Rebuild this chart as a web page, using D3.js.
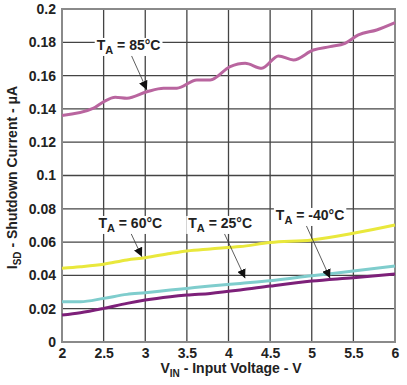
<!DOCTYPE html>
<html>
<head>
<meta charset="utf-8">
<script src="https://cdn.jsdelivr.net/npm/d3@7"></script>
<style>
  body { margin: 0; background: #fff; }
  text { font-family: "Liberation Sans", Arial, sans-serif; font-weight: bold; fill: #222; }
</style>
</head>
<body>
<svg id="chart" width="407" height="385"></svg>
<script>
// data
const xTicks = [2, 2.5, 3, 3.5, 4, 4.5, 5, 5.5, 6];
const yTicks = [0, 0.02, 0.04, 0.06, 0.08, 0.1, 0.12, 0.14, 0.16, 0.18, 0.2];

const vin85 = [2.0, 2.38, 2.5, 2.64, 2.78, 3.02, 3.22, 3.38, 3.62, 3.78, 4.02, 4.2, 4.4, 4.6, 4.78, 5.02, 5.22, 5.4, 5.56, 5.78, 6.0];
const isd85 = [0.136, 0.1404, 0.1443, 0.147, 0.1464, 0.1503, 0.1524, 0.1524, 0.1574, 0.1574, 0.1654, 0.1674, 0.1644, 0.1718, 0.1694, 0.1754, 0.1774, 0.1794, 0.1844, 0.1874, 0.1918];

const vinLow = [2.0, 2.22, 2.5, 2.78, 3.0, 3.3, 3.5, 3.78, 4.14, 4.5, 5.0, 5.5, 6.0];
const isd60 = [0.0443, 0.0452, 0.0467, 0.0493, 0.0506, 0.0532, 0.0547, 0.0559, 0.0573, 0.0597, 0.0613, 0.0653, 0.0703];
const isd25 = [0.0242, 0.0242, 0.0262, 0.0286, 0.0296, 0.0312, 0.0322, 0.0336, 0.0352, 0.0368, 0.0398, 0.0426, 0.0456];
const isdM40 = [0.0162, 0.0176, 0.0202, 0.0232, 0.0252, 0.0272, 0.0282, 0.0292, 0.0312, 0.0336, 0.0366, 0.0386, 0.0408];

const series = [
  {name: '85', x: vin85, y: isd85, color: '#b9659f'},
  {name: '60', x: vinLow, y: isd60, color: '#e9e83c'},
  {name: '25', x: vinLow, y: isd25, color: '#7fcdcd'},
  {name: '-40', x: vinLow, y: isdM40, color: '#7d2079'}
];

// label text, label centre, arrow start and arrow tip in data units
const labels = [
  {temp: '85', lx: 2.8, ly: 0.1784, ax: 2.82, ay: 0.1736, tx: 3.02, ty: 0.1514},
  {temp: '60', lx: 2.82, ly: 0.0715, ax: 2.8, ay: 0.0683, tx: 2.96, ty: 0.0512},
  {temp: '25', lx: 3.9, ly: 0.0715, ax: 3.93, ay: 0.0673, tx: 4.2, ty: 0.0383},
  {temp: '-40', lx: 4.98, ly: 0.0763, ax: 4.92, ay: 0.0715, tx: 5.22, ty: 0.0383}
];

const margin = {left: 62, right: 12, top: 9, bottom: 43};
const W = 407, H = 385;

const svg = d3.select('#chart');

const x = d3.scaleLinear().domain([2, 6]).range([margin.left, W - margin.right]);
const y = d3.scaleLinear().domain([0, 0.2]).range([H - margin.bottom, margin.top]);

// grid
const grid = svg.append('g').attr('id', 'grid');
grid.selectAll('line.v')
  .data(xTicks.slice(1, -1))
  .join('line')
    .attr('class', 'v')
    .attr('x1', d => x(d)).attr('x2', d => x(d))
    .attr('y1', y(0)).attr('y2', y(0.2))
    .attr('stroke', '#444').attr('stroke-width', 1.3);
grid.selectAll('line.h')
  .data(yTicks.slice(1, -1))
  .join('line')
    .attr('class', 'h')
    .attr('x1', x(2)).attr('x2', x(6))
    .attr('y1', d => y(d)).attr('y2', d => y(d))
    .attr('stroke', '#444').attr('stroke-width', 1.3);

// frame
svg.append('rect')
  .attr('x', x(2)).attr('y', y(0.2))
  .attr('width', x(6) - x(2)).attr('height', y(0) - y(0.2))
  .attr('fill', 'none').attr('stroke', '#8a8a8a').attr('stroke-width', 2);

// axes tick labels
const xAxis = d3.axisBottom(x).tickValues(xTicks).tickSize(0).tickPadding(6).tickFormat(d3.format('~g'));
svg.append('g')
  .attr('transform', `translate(0 ${y(0)})`)
  .call(xAxis)
  .call(g => g.select('.domain').remove())
  .selectAll('text')
    .attr('font-size', 14).attr('font-family', '"Liberation Sans", Arial, sans-serif').attr('font-weight', 'bold').attr('fill', '#222');

const yAxis = d3.axisLeft(y).tickValues(yTicks).tickSize(0).tickPadding(6).tickFormat(d3.format('~g'));
svg.append('g')
  .attr('transform', `translate(${x(2)} 0)`)
  .call(yAxis)
  .call(g => g.select('.domain').remove())
  .selectAll('text')
    .attr('font-size', 14).attr('font-family', '"Liberation Sans", Arial, sans-serif').attr('font-weight', 'bold').attr('fill', '#222');

// series lines
const line = d3.line().curve(d3.curveMonotoneX);
svg.append('g').attr('id', 'series')
  .selectAll('path')
  .data(series)
  .join('path')
    .attr('d', s => line(s.x.map((v, i) => [x(v), y(s.y[i])])))
    .attr('fill', 'none')
    .attr('stroke', s => s.color)
    .attr('stroke-width', 3)
    .attr('stroke-linejoin', 'round');

// annotations
svg.append('defs').append('marker')
  .attr('id', 'arrow')
  .attr('viewBox', '0 0 10 10')
  .attr('refX', 10).attr('refY', 5)
  .attr('markerWidth', 9).attr('markerHeight', 9)
  .attr('markerUnits', 'userSpaceOnUse')
  .attr('orient', 'auto')
  .append('path').attr('d', 'M0,0 L10,5 L0,10 z').attr('fill', '#111');

const ann = svg.append('g').attr('id', 'annotations');
labels.forEach(l => {
  ann.append('line')
    .attr('x1', x(l.ax)).attr('y1', y(l.ay))
    .attr('x2', x(l.tx)).attr('y2', y(l.ty))
    .attr('stroke', '#333').attr('stroke-width', 0.8)
    .attr('marker-end', 'url(#arrow)');
  const t = ann.append('text')
    .attr('x', x(l.lx)).attr('y', y(l.ly) + 5)
    .attr('text-anchor', 'middle')
    .attr('font-size', 14);
  t.append('tspan').text('T');
  t.append('tspan').attr('dy', 4).attr('font-size', 11).text('A');
  t.append('tspan').attr('dy', -4).text(` = ${l.temp}°C`);
  const bb = t.node().getBBox();
  ann.insert('rect', function() { return t.node(); })
    .attr('x', bb.x - 2).attr('y', bb.y + 1)
    .attr('width', bb.width + 4).attr('height', bb.height - 1)
    .attr('fill', '#fff');
});

// axis titles
const xt = svg.append('text')
  .attr('x', 231).attr('y', 373)
  .attr('text-anchor', 'middle')
  .attr('font-size', 14);
xt.append('tspan').text('V');
xt.append('tspan').attr('dy', 4).attr('font-size', 10).text('IN');
xt.append('tspan').attr('dy', -4).text(' - Input Voltage - V');

const yt = svg.append('text')
  .attr('transform', `translate(17 ${y(0.1) + 2}) rotate(-90)`)
  .attr('text-anchor', 'middle')
  .attr('font-size', 14);
yt.append('tspan').text('I');
yt.append('tspan').attr('dy', 4).attr('font-size', 10).text('SD');
yt.append('tspan').attr('dy', -4).text(' - Shutdown Current - μA');
</script>
</body>
</html>
